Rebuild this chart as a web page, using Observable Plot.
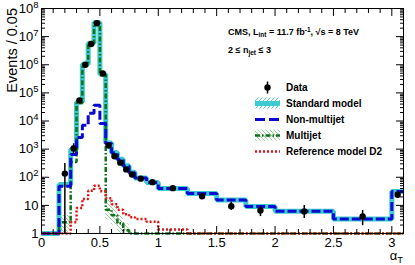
<!DOCTYPE html>
<html><head><meta charset="utf-8">
<script src="https://cdn.jsdelivr.net/npm/d3@7"></script>
<script src="https://cdn.jsdelivr.net/npm/@observablehq/plot@0.6"></script>
<style>
body{margin:0;background:#fff}
#chart{position:relative;width:415px;height:265px}
</style>
</head><body><div id="chart"></div>
<script>
// ---- data ----
const binEdges = [0, 0.15, 0.25, 0.30, 0.35, 0.40, 0.45, 0.50, 0.55, 0.60, 0.65, 0.70, 0.75, 0.80, 0.90, 1.0, 1.25, 1.5, 1.75, 2.0, 2.5, 3.0, 3.1];
const standardModel = [1, 55, 1000, 4.7e4, 1.05e6, 5.8e6, 3.2e7, 4.6e5, 1650, 760, 440, 255, 150, 94, 65, 40, 26.5, 15.5, 9.1, 6.2, 3.3, 31];
const nonMultijet   = [1, 48, 650, 2600, 7000, 1.9e4, 3.6e4, 8200, 1600, 740, 430, 250, 145, 94, 65, 40, 26.5, 15.5, 9.1, 6.2, 3.3, 31];
const multijet      = [1, 2.5, 350, 4.4e4, 1.04e6, 5.8e6, 3.2e7, 4.5e5, 7, 4.5, 2.3, 1.3, 1, 1, 1, 1, 1, 1, 1, 1, 1, 1];
const referenceD2   = [1, 1, 2.5, 8, 17, 33, 50, 32, 18, 11, 7, 4.8, 3.8, 3.3, 2.6, 1.4, 1, 1, 1, 1, 1, 1];

const multijetBandBin = [1, 8, 9, 10, 11];
const multijetBandLo  = [1, 3, 2, 1, 1];
const multijetBandHi  = [4.5, 15, 9, 4.5, 2.2];

const dataX  = [0.2, 0.275, 0.325, 0.375, 0.425, 0.475, 0.525, 0.575, 0.625, 0.675, 0.725, 0.775, 0.85, 0.95, 1.125, 1.375, 1.625, 1.875, 2.25, 2.75, 3.05];
const dataY  = [135, 1050, 5.4e4, 1.0e6, 5.5e6, 3.0e7, 4.9e5, 1350, 560, 330, 190, 125, 89, 67, 41, 21, 9.4, 6.6, 6.1, 4.0, 24];
const dataLo = [1, 650, 5.2e4, 1.0e6, 5.5e6, 3.0e7, 4.9e5, 1300, 540, 315, 180, 115, 81, 60, 36, 17, 6.6, 4.0, 3.4, 1.9, 19];
const dataHi = [310, 1550, 5.6e4, 1.0e6, 5.5e6, 3.0e7, 4.9e5, 1400, 585, 345, 200, 135, 98, 75, 47, 26, 13, 9.1, 9.9, 6.6, 30];

const xTickValues = [0, 0.5, 1, 1.5, 2, 2.5, 3];
const xTickLabels = ["0", "0.5", "1", "1.5", "2", "2.5", "3"];
const yTickValues = [1, 1e1, 1e2, 1e3, 1e4, 1e5, 1e6, 1e7, 1e8];
const yTickLabels = ["1", "10", "10^2", "10^3", "10^4", "10^5", "10^6", "10^7", "10^8"];

const legendLabels = ["Data", "Standard model", "Non-multijet", "Multijet", "Reference model D2"];

// ---- colours / styles ----
const cCyan = "#3ccbd0", cBlue = "#0a0ad2", cGreen = "#11701c", cGreenHatch = "#86c98a", cRed = "#dd1414";
const dashBlue = "9,3", dashGreen = "5,2,1.5,2", dashRed = "2,2";
const flat = {strokeLinecap: "butt", strokeLinejoin: "miter"};

// ---- helpers ----
const steps = vals => {
  const pts = vals.map((v, i) => ({x: binEdges[i], y: v}));
  pts.push({x: binEdges[binEdges.length - 1], y: vals[vals.length - 1]});
  return pts;
};
const points = dataX.map((x, i) => ({x, y: dataY[i], lo: dataLo[i], hi: dataHi[i]}));
const bands = multijetBandBin.map((b, i) => ({x1: binEdges[b], x2: binEdges[b + 1], y1: multijetBandLo[i], y2: multijetBandHi[i]}));
const yMinor = d3.range(0, 8).flatMap(k => d3.range(2, 10).map(m => m * 10 ** k));
const xMinor = d3.range(0, 32).filter(i => i % 5 !== 0).map(i => i / 10);
const fontFam = "'Liberation Sans', Arial, Helvetica, sans-serif";

const plot = Plot.plot({
  width: 415, height: 265,
  marginLeft: 41, marginRight: 12, marginTop: 8, marginBottom: 32,
  style: {fontFamily: fontFam, fontSize: "13px", background: "white", color: "black", overflow: "visible"},
  x: {domain: [0, 3.1]},
  y: {type: "log", domain: [1, 1e8]},
  marks: [
    Plot.rect(bands, {x1: "x1", x2: "x2", y1: "y1", y2: "y2", fill: "url(#mjHatch)"}),
    Plot.line(steps(standardModel), {x: "x", y: "y", curve: "step-after", stroke: cCyan, strokeWidth: 5, ...flat}),
    Plot.line(steps(multijet), {x: "x", y: "y", curve: "step-after", stroke: cGreen, strokeWidth: 2.5, strokeDasharray: dashGreen, ...flat}),
    Plot.line(steps(nonMultijet), {x: "x", y: "y", curve: "step-after", stroke: cBlue, strokeWidth: 3, strokeDasharray: dashBlue, ...flat}),
    Plot.line(steps(referenceD2), {x: "x", y: "y", curve: "step-after", stroke: cRed, strokeWidth: 2.5, strokeDasharray: dashRed, ...flat}),
    Plot.ruleX(points, {x: "x", y1: "lo", y2: "hi", stroke: "black", strokeWidth: 1.5}),
    Plot.dot(points, {x: "x", y: "y", r: 3.2, fill: "black"}),
    Plot.frame({stroke: "black", strokeWidth: 1}),
    // inward ticks, all four sides
    Plot.axisX(xTickValues, {anchor: "bottom", tickSize: -7, fill: "none", label: null}),
    Plot.axisX(xMinor, {anchor: "bottom", tickSize: -4, fill: "none", label: null}),
    Plot.axisX(xTickValues, {anchor: "top", tickSize: -7, fill: "none", label: null}),
    Plot.axisX(xMinor, {anchor: "top", tickSize: -4, fill: "none", label: null}),
    Plot.axisY(yTickValues, {anchor: "left", tickSize: -8, fill: "none", label: null}),
    Plot.axisY(yMinor, {anchor: "left", tickSize: -4, fill: "none", label: null}),
    Plot.axisY(yTickValues, {anchor: "right", tickSize: -8, fill: "none", label: null}),
    Plot.axisY(yMinor, {anchor: "right", tickSize: -4, fill: "none", label: null}),
    // tick labels
    Plot.axisX(xTickValues, {anchor: "bottom", tickSize: 0, tickPadding: 4, tickFormat: d => xTickLabels[xTickValues.indexOf(d)], fontSize: 13, label: null}),
    Plot.axisY(yTickValues, {anchor: "left", tickSize: 0, tickPadding: 3, tickFormat: d => yTickLabels[yTickValues.indexOf(d)], fontSize: 13, label: null})
  ]
});

const svg = d3.select(plot);

const defs = svg.insert("defs", ":first-child");
const mk = (id, color, dir) => {
  const p = defs.append("pattern").attr("id", id).attr("patternUnits", "userSpaceOnUse").attr("width", 4).attr("height", 4);
  if (dir > 0) p.append("path").attr("d", "M-1,1 L1,-1 M0,4 L4,0 M3,5 L5,3");
  else p.append("path").attr("d", "M-1,3 L1,5 M0,0 L4,4 M3,-1 L5,1");
  p.select("path").attr("stroke", color).attr("stroke-width", 0.9).attr("fill", "none");
};
mk("mjHatch", cGreenHatch, -1);
mk("smHatch", cCyan, 1);

// superscripts on y tick labels
svg.selectAll("text").each(function() {
  const t = d3.select(this);
  if (t.selectAll("tspan").size() > 0) return;
  const s = t.text();
  const m = /^10\^(\d)$/.exec(s);
  if (m) {
    t.text("10");
    t.append("tspan").attr("dy", "-5").attr("font-size", "9.5").text(m[1]);
  }
});

// axis titles
svg.append("text").attr("transform", "translate(16.5,8) rotate(-90)").attr("text-anchor", "end")
  .attr("font-family", fontFam).attr("font-size", 14.5).text("Events / 0.05");
const at = svg.append("text").attr("x", 403).attr("y", 260).attr("text-anchor", "end")
  .attr("font-family", fontFam).attr("font-size", 13).text("α");
at.append("tspan").attr("dy", 3).attr("font-size", 9.5).text("T");

// annotation
const ann = svg.append("g").attr("font-family", fontFam).attr("font-weight", "bold").attr("font-size", 9).attr("text-anchor", "start");
const l1 = ann.append("text").attr("x", 228).attr("y", 35).text("CMS, L");
l1.append("tspan").attr("dy", 2).attr("font-size", 6.5).text("int");
l1.append("tspan").attr("dy", -2).text(" = 11.7 fb");
l1.append("tspan").attr("dy", -3.5).attr("font-size", 6.5).text("-1");
l1.append("tspan").attr("dy", 3.5).text(", √s = 8 TeV");
const l2 = ann.append("text").attr("x", 228).attr("y", 53).text("2 ≤ n");
l2.append("tspan").attr("dy", 2).attr("font-size", 6.5).text("jet");
l2.append("tspan").attr("dy", -2).text(" ≤ 3");

// legend
const lg = svg.append("g").attr("font-family", fontFam).attr("font-weight", "bold").attr("font-size", 10).attr("text-anchor", "start");
const ly = [87.5, 103.5, 119.5, 135.5, 151.5];
const sx0 = 255, sx1 = 280;
lg.append("line").attr("x1", 267.5).attr("x2", 267.5).attr("y1", ly[0] - 6).attr("y2", ly[0] + 6).attr("stroke", "black").attr("stroke-width", 1.5);
lg.append("circle").attr("cx", 267.5).attr("cy", ly[0]).attr("r", 3.2).attr("fill", "black");
lg.append("rect").attr("x", sx0).attr("y", ly[1] - 6).attr("width", sx1 - sx0).attr("height", 11).attr("fill", "url(#smHatch)");
lg.append("line").attr("x1", sx0).attr("x2", sx1).attr("y1", ly[1]).attr("y2", ly[1]).attr("stroke", cCyan).attr("stroke-width", 5);
lg.append("line").attr("x1", sx0).attr("x2", sx1).attr("y1", ly[2]).attr("y2", ly[2]).attr("stroke", cBlue).attr("stroke-width", 3).attr("stroke-dasharray", "10,4");
lg.append("rect").attr("x", sx0).attr("y", ly[3] - 6).attr("width", sx1 - sx0).attr("height", 11).attr("fill", "url(#mjHatch)");
lg.append("line").attr("x1", sx0).attr("x2", sx1).attr("y1", ly[3]).attr("y2", ly[3]).attr("stroke", cGreen).attr("stroke-width", 2.5).attr("stroke-dasharray", dashGreen);
lg.append("line").attr("x1", sx0).attr("x2", sx1).attr("y1", ly[4]).attr("y2", ly[4]).attr("stroke", cRed).attr("stroke-width", 2.5).attr("stroke-dasharray", dashRed);
legendLabels.forEach((s, i) => lg.append("text").attr("x", 286).attr("y", ly[i]).attr("dy", "0.35em").text(s));

document.getElementById("chart").appendChild(plot);
</script>
</body></html>
